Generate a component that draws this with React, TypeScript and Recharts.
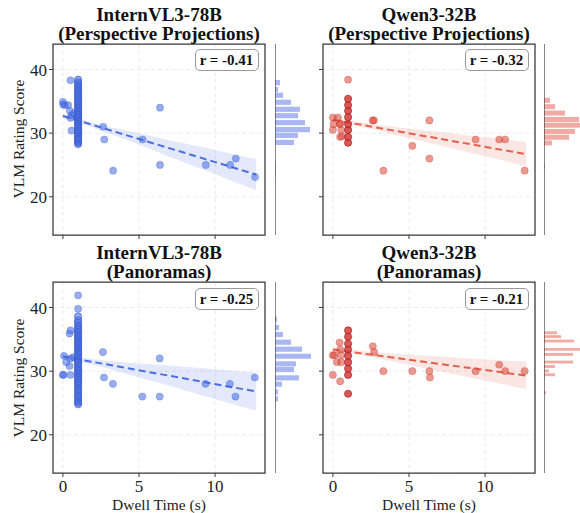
import React from 'react';
import {
  ComposedChart,
  BarChart,
  Bar,
  Scatter,
  Line,
  Area,
  XAxis,
  YAxis,
  CartesianGrid,
  ReferenceArea,
  ReferenceLine,
} from 'recharts';

const FONT = "'Liberation Serif', 'Times New Roman', serif";

const xTicks = [0, 5, 10];
const yTicks = [20, 30, 40];
const xDomain = [-0.65, 13.28];
const yDomain = [14, 44];

// ---- InternVL3-78B, perspective projections ----
const ivlPerspPoints = [
  { x: 0.0, y: 34.9 }, { x: 0.13, y: 34.4 }, { x: 0.02, y: 34.5 }, { x: 0.35, y: 34.4 },
  { x: 0.46, y: 33.5 }, { x: 0.5, y: 38.3 }, { x: 0.57, y: 32.8 }, { x: 0.5, y: 32.4 },
  { x: 0.57, y: 30.4 }, { x: 0.72, y: 33.1 }, { x: 2.65, y: 31.0 }, { x: 2.72, y: 29.0 },
  { x: 3.3, y: 24.1 }, { x: 5.24, y: 29.0 }, { x: 6.38, y: 34.0 }, { x: 6.38, y: 25.0 },
  { x: 9.39, y: 25.0 }, { x: 10.99, y: 25.0 }, { x: 11.36, y: 26.0 }, { x: 12.63, y: 23.1 },
];
// scores at the 1 s dwell time
const ivlPerspColumn = [
  28.3, 28.5, 28.8, 29.1, 29.3, 29.6, 29.9, 30.1, 30.4, 30.6, 30.9, 31.2, 31.4, 31.7,
  32.0, 32.2, 32.5, 32.8, 33.0, 33.3, 33.6, 33.9, 34.1, 34.4, 34.7, 35.0, 35.3, 35.6,
  35.9, 36.2, 36.5, 36.8, 37.1, 37.4, 37.7, 38.0, 38.4,
];
const ivlPerspFit = [{ x: 0, y: 32.7 }, { x: 12.7, y: 23.5 }];
const ivlPerspBand = [
  { x: 0, band: [32.3, 33.1] }, { x: 1, band: [31.7, 32.3] }, { x: 3, band: [30.0, 31.0] },
  { x: 5, band: [28.2, 30.0] }, { x: 7, band: [26.3, 28.9] }, { x: 9, band: [24.5, 27.9] },
  { x: 11, band: [22.6, 26.8] }, { x: 12.7, band: [21.0, 25.9] },
];
const ivlPerspHist = [
  { bin: 37.9, count: 5 }, { bin: 36.8, count: 3 }, { bin: 35.9, count: 8 }, { bin: 34.8, count: 16 },
  { bin: 33.7, count: 25 }, { bin: 32.7, count: 23 }, { bin: 31.6, count: 30 }, { bin: 30.5, count: 35 },
  { bin: 29.6, count: 23 }, { bin: 28.5, count: 19 }, { bin: 24.6, count: 1 }, { bin: 23.5, count: 1 },
];

// ---- Qwen3-32B, perspective projections ----
const qwenPerspPoints = [
  { x: 0.0, y: 32.45 }, { x: 0.33, y: 32.45 }, { x: 0.04, y: 31.4 }, { x: 0.0, y: 30.5 },
  { x: 0.48, y: 31.5 }, { x: 0.55, y: 30.5 }, { x: 0.48, y: 29.4 }, { x: 0.6, y: 29.5 },
  { x: 0.45, y: 31.4 }, { x: 1.0, y: 38.4 }, { x: 2.62, y: 32.0 }, { x: 2.7, y: 32.0 },
  { x: 3.32, y: 24.1 }, { x: 5.22, y: 28.0 }, { x: 6.34, y: 32.0 }, { x: 6.34, y: 26.0 },
  { x: 9.38, y: 29.0 }, { x: 10.93, y: 29.0 }, { x: 11.32, y: 29.0 }, { x: 12.6, y: 24.1 },
];
const qwenPerspColumn = [28.5, 29.4, 30.5, 31.4, 32.5, 33.5, 34.4, 35.4];
const qwenPerspFit = [{ x: 0, y: 32.1 }, { x: 12.7, y: 26.7 }];
const qwenPerspBand = [
  { x: 0, band: [31.75, 32.45] }, { x: 1, band: [31.4, 32.0] }, { x: 3, band: [30.4, 31.3] },
  { x: 5, band: [29.2, 30.7] }, { x: 7, band: [28.1, 30.2] }, { x: 9, band: [26.9, 29.6] },
  { x: 11, band: [25.8, 29.1] }, { x: 12.7, band: [24.8, 28.6] },
];
const qwenPerspHist = [
  { bin: 35.1, count: 6 }, { bin: 34.1, count: 11 }, { bin: 33.1, count: 21 }, { bin: 32.1, count: 35 },
  { bin: 31.2, count: 40 }, { bin: 30.2, count: 31 }, { bin: 29.3, count: 25 }, { bin: 28.4, count: 8 },
  { bin: 24.7, count: 1 },
];

// ---- InternVL3-78B, panoramas ----
const ivlPanoPoints = [
  { x: 0.0, y: 29.4 }, { x: 0.04, y: 29.4 }, { x: 0.07, y: 32.4 }, { x: 0.22, y: 31.4 },
  { x: 0.44, y: 30.8 }, { x: 0.5, y: 32.0 }, { x: 0.44, y: 35.9 }, { x: 0.5, y: 36.4 },
  { x: 0.5, y: 29.4 }, { x: 0.7, y: 32.2 }, { x: 1.0, y: 41.9 }, { x: 1.0, y: 39.8 },
  { x: 2.63, y: 33.0 }, { x: 2.7, y: 29.0 }, { x: 3.29, y: 28.0 }, { x: 5.22, y: 26.0 },
  { x: 6.36, y: 32.0 }, { x: 6.36, y: 26.0 }, { x: 9.37, y: 28.0 }, { x: 10.97, y: 28.0 },
  { x: 11.34, y: 26.0 }, { x: 12.61, y: 29.0 },
];
const ivlPanoColumn = [
  24.8, 25.1, 25.4, 25.8, 26.1, 26.4, 26.8, 27.1, 27.4, 27.8, 28.1, 28.4, 28.7, 29.0,
  29.3, 29.6, 29.9, 30.2, 30.5, 30.8, 31.1, 31.4, 31.7, 32.0, 32.3, 32.6, 32.9, 33.2,
  33.5, 33.8, 34.1, 34.4, 34.7, 35.0, 35.3, 35.6, 35.9, 36.2, 36.5, 36.8, 37.2, 37.6,
  38.0, 38.6,
];
const ivlPanoFit = [{ x: 0, y: 32.3 }, { x: 12.7, y: 26.8 }];
const ivlPanoBand = [
  { x: 0, band: [31.9, 32.7] }, { x: 1, band: [31.5, 32.2] }, { x: 3, band: [30.4, 31.6] },
  { x: 5, band: [29.0, 31.2] }, { x: 7, band: [27.7, 30.9] }, { x: 9, band: [26.3, 30.5] },
  { x: 11, band: [24.9, 30.1] }, { x: 12.7, band: [23.8, 29.8] },
];
const ivlPanoHist = [
  { bin: 38.1, count: 2 }, { bin: 36.8, count: 4 }, { bin: 35.7, count: 8 }, { bin: 34.5, count: 16 },
  { bin: 33.4, count: 27 }, { bin: 32.3, count: 36 }, { bin: 31.1, count: 21 }, { bin: 30.2, count: 19 },
  { bin: 28.9, count: 24 }, { bin: 27.9, count: 7 }, { bin: 26.7, count: 3 }, { bin: 25.6, count: 3 },
];

// ---- Qwen3-32B, panoramas ----
const qwenPanoPoints = [
  { x: 0.0, y: 32.5 }, { x: 0.1, y: 32.5 }, { x: 0.0, y: 29.4 }, { x: 0.44, y: 34.5 },
  { x: 0.48, y: 33.4 }, { x: 0.55, y: 32.5 }, { x: 0.26, y: 31.4 }, { x: 0.55, y: 31.4 },
  { x: 0.48, y: 28.4 }, { x: 2.62, y: 33.9 }, { x: 2.71, y: 33.0 }, { x: 3.32, y: 30.0 },
  { x: 5.22, y: 30.0 }, { x: 6.34, y: 30.0 }, { x: 6.38, y: 29.0 }, { x: 9.38, y: 30.0 },
  { x: 10.93, y: 31.0 }, { x: 11.32, y: 30.0 }, { x: 12.6, y: 30.0 },
];
const qwenPanoColumn = [26.45, 29.4, 30.4, 31.4, 32.4, 33.4, 34.3, 35.4, 36.4];
const qwenPanoFit = [{ x: 0, y: 33.4 }, { x: 12.7, y: 29.3 }];
const qwenPanoBand = [
  { x: 0, band: [33.0, 33.8] }, { x: 1, band: [32.8, 33.4] }, { x: 3, band: [32.0, 32.9] },
  { x: 5, band: [31.0, 32.6] }, { x: 7, band: [30.0, 32.3] }, { x: 9, band: [29.0, 32.0] },
  { x: 11, band: [28.0, 31.7] }, { x: 12.7, band: [27.2, 31.5] },
];
const qwenPanoHist = [
  { bin: 36.0, count: 13 }, { bin: 35.4, count: 17 }, { bin: 34.7, count: 30 }, { bin: 33.4, count: 40 },
  { bin: 32.6, count: 29 }, { bin: 31.4, count: 29 }, { bin: 30.7, count: 11 }, { bin: 30.0, count: 5 },
  { bin: 29.4, count: 11 }, { bin: 28.9, count: 1 }, { bin: 26.6, count: 2 },
];

const BLUE = {
  point: '#4169e1', edge: '#3558cc', line: '#4a6fe3', band: '#4169e1',
  hist: '#a9b8f3', colFill: '#4f72e2', colEdge: '#3355c8', colOpacity: 0.6,
};
const RED = {
  point: '#dc4535', edge: '#b8302a', line: '#e4604c', band: '#e0604c',
  hist: '#f0aba4', colFill: '#d43a36', colEdge: '#a01822', colOpacity: 0.85,
};

const PLOT_W = 212;
const PLOT_H = 191;
const Y_AXIS_W = 45;
const X_AXIS_H = 30;
const M_TOP = 10;
const M_RIGHT = 10;

interface PanelProps {
  left: number;
  top: number;
  points: { x: number; y: number }[];
  column: number[];
  fit: { x: number; y: number }[];
  band: { x: number; band: number[] }[];
  colors: typeof BLUE;
  showX: boolean;
  showY: boolean;
}

const tickStyle = { fontFamily: FONT, fontSize: 17, fill: '#222' };

const Panel: React.FC<PanelProps> = ({ left, top, points, column, fit, band, colors, showX, showY }) => {
  const columnPts = column.map((y) => ({ x: 1, y }));
  return (
    <div style={{ position: 'absolute', left: left - Y_AXIS_W, top: top - M_TOP, fontFamily: FONT }}>
      <ComposedChart
        width={Y_AXIS_W + PLOT_W + M_RIGHT}
        height={M_TOP + PLOT_H + X_AXIS_H}
        margin={{ top: M_TOP, right: M_RIGHT, bottom: 0, left: 0 }}
      >
        <CartesianGrid stroke="#ebebeb" strokeDasharray="4 3" />
        <XAxis
          type="number"
          dataKey="x"
          domain={xDomain}
          ticks={xTicks}
          allowDataOverflow
          height={X_AXIS_H}
          axisLine={false}
          tickSize={4}
          tickMargin={3}
          tickLine={{ stroke: '#3a3a3a' }}
          tick={tickStyle}
          tickFormatter={showX ? (v) => String(v) : () => ''}
        />
        <YAxis
          type="number"
          dataKey="y"
          domain={yDomain}
          ticks={yTicks}
          allowDataOverflow
          width={Y_AXIS_W}
          axisLine={false}
          tickSize={4}
          tickMargin={2}
          tickLine={{ stroke: '#3a3a3a' }}
          tick={tickStyle}
          tickFormatter={showY ? (v) => String(v) : () => ''}
        />
        <Area
          data={band}
          dataKey="band"
          type="linear"
          stroke="none"
          fill={colors.band}
          fillOpacity={0.15}
          isAnimationActive={false}
        />
        <Scatter
          data={points}
          isAnimationActive={false}
          shape={(p: any) => (
            <circle cx={p.cx} cy={p.cy} r={3.6} fill={colors.point} fillOpacity={0.55}
              stroke={colors.edge} strokeOpacity={0.35} strokeWidth={0.8} />
          )}
        />
        <Scatter
          data={columnPts}
          isAnimationActive={false}
          shape={(p: any) => (
            <circle cx={p.cx} cy={p.cy} r={3.6} fill={colors.colFill} fillOpacity={colors.colOpacity}
              stroke={colors.colEdge} strokeOpacity={0.7} strokeWidth={0.9} />
          )}
        />
        <Line
          data={fit}
          dataKey="y"
          type="linear"
          stroke={colors.line}
          strokeWidth={2}
          strokeDasharray="7 4"
          dot={false}
          activeDot={false}
          isAnimationActive={false}
        />
        <ReferenceArea
          x1={xDomain[0]}
          x2={xDomain[1]}
          y1={yDomain[0]}
          y2={yDomain[1]}
          fill="none"
          stroke="#3a3a3a"
          strokeWidth={1.25}
          ifOverflow="visible"
        />
      </ComposedChart>
    </div>
  );
};

interface HistProps {
  left: number;
  top: number;
  width: number;
  data: { bin: number; count: number }[];
  color: string;
  barSize: number;
}

const Hist: React.FC<HistProps> = ({ left, top, width, data, color, barSize }) => (
  <div style={{ position: 'absolute', left, top }}>
    <BarChart layout="vertical" width={width} height={PLOT_H} data={data} margin={{ top: 0, right: 0, bottom: 0, left: 0 }}>
      <XAxis type="number" domain={[0, width]} hide allowDataOverflow />
      <YAxis type="number" dataKey="bin" domain={yDomain} hide allowDataOverflow reversed />
      <Bar dataKey="count" fill={color} barSize={barSize} isAnimationActive={false} />
      <ReferenceLine x={0} stroke="#444" strokeWidth={1.3} ifOverflow="visible" />
    </BarChart>
  </div>
);

const Title: React.FC<{ cx: number; top: number; lines: string[] }> = ({ cx, top, lines }) => (
  <div
    style={{
      position: 'absolute', left: cx - 150, width: 300, top, textAlign: 'center',
      fontFamily: FONT, fontWeight: 'bold', fontSize: 19, lineHeight: '19px', color: '#111',
    }}
  >
    {lines[0]}
    <br />
    {lines[1]}
  </div>
);

const RBox: React.FC<{ right: number; top: number; text: string }> = ({ right, top, text }) => (
  <div
    style={{
      position: 'absolute', left: right - 64, top, width: 64, height: 22, boxSizing: 'border-box',
      border: '1px solid #999', borderRadius: 5, background: 'rgba(255,255,255,0.92)',
      fontFamily: FONT, fontWeight: 'bold', fontSize: 15, lineHeight: '20px', textAlign: 'center', color: '#111',
    }}
  >
    {text}
  </div>
);

const YLabel: React.FC<{ cy: number }> = ({ cy }) => (
  <div
    style={{
      position: 'absolute', left: 19 - 100, top: cy - 10, width: 200, height: 20, lineHeight: '20px',
      textAlign: 'center', transform: 'rotate(-90deg)', fontFamily: FONT, fontSize: 15.5, color: '#222',
    }}
  >
    VLM Rating Score
  </div>
);

const XLabel: React.FC<{ cx: number }> = ({ cx }) => (
  <div
    style={{
      position: 'absolute', left: cx - 100, top: 497, width: 200, lineHeight: '15px',
      textAlign: 'center', fontFamily: FONT, fontSize: 15.5, color: '#222',
    }}
  >
    Dwell Time (s)
  </div>
);

export default function App() {
  const L1 = 53;
  const L2 = 323;
  const T1 = 44;
  const T2 = 282;
  return (
    <div style={{ position: 'absolute', left: 0, top: 0, width: 580, height: 513, overflow: 'hidden', background: '#fff' }}>
      <Panel left={L1} top={T1} points={ivlPerspPoints} column={ivlPerspColumn} fit={ivlPerspFit}
        band={ivlPerspBand} colors={BLUE} showX={false} showY />
      <Panel left={L2} top={T1} points={qwenPerspPoints} column={qwenPerspColumn} fit={qwenPerspFit}
        band={qwenPerspBand} colors={RED} showX={false} showY={false} />
      <Panel left={L1} top={T2} points={ivlPanoPoints} column={ivlPanoColumn} fit={ivlPanoFit}
        band={ivlPanoBand} colors={BLUE} showX showY />
      <Panel left={L2} top={T2} points={qwenPanoPoints} column={qwenPanoColumn} fit={qwenPanoFit}
        band={qwenPanoBand} colors={RED} showX showY={false} />

      <Hist left={275} top={T1} width={40} data={ivlPerspHist} color={BLUE.hist} barSize={6} />
      <Hist left={544} top={T1} width={36} data={qwenPerspHist} color={RED.hist} barSize={5} />
      <Hist left={275} top={T2} width={40} data={ivlPanoHist} color={BLUE.hist} barSize={6} />
      <Hist left={544} top={T2} width={36} data={qwenPanoHist} color={RED.hist} barSize={4} />

      <Title cx={159} top={5} lines={['InternVL3-78B', '(Perspective Projections)']} />
      <Title cx={429} top={5} lines={['Qwen3-32B', '(Perspective Projections)']} />
      <Title cx={159} top={243} lines={['InternVL3-78B', '(Panoramas)']} />
      <Title cx={429} top={243} lines={['Qwen3-32B', '(Panoramas)']} />

      <RBox right={258.5} top={49} text="r = -0.41" />
      <RBox right={528.5} top={49} text="r = -0.32" />
      <RBox right={258.5} top={288} text="r = -0.25" />
      <RBox right={528.5} top={288} text="r = -0.21" />

      <YLabel cy={139} />
      <YLabel cy={377.5} />
      <XLabel cx={159} />
      <XLabel cx={429} />
    </div>
  );
}
